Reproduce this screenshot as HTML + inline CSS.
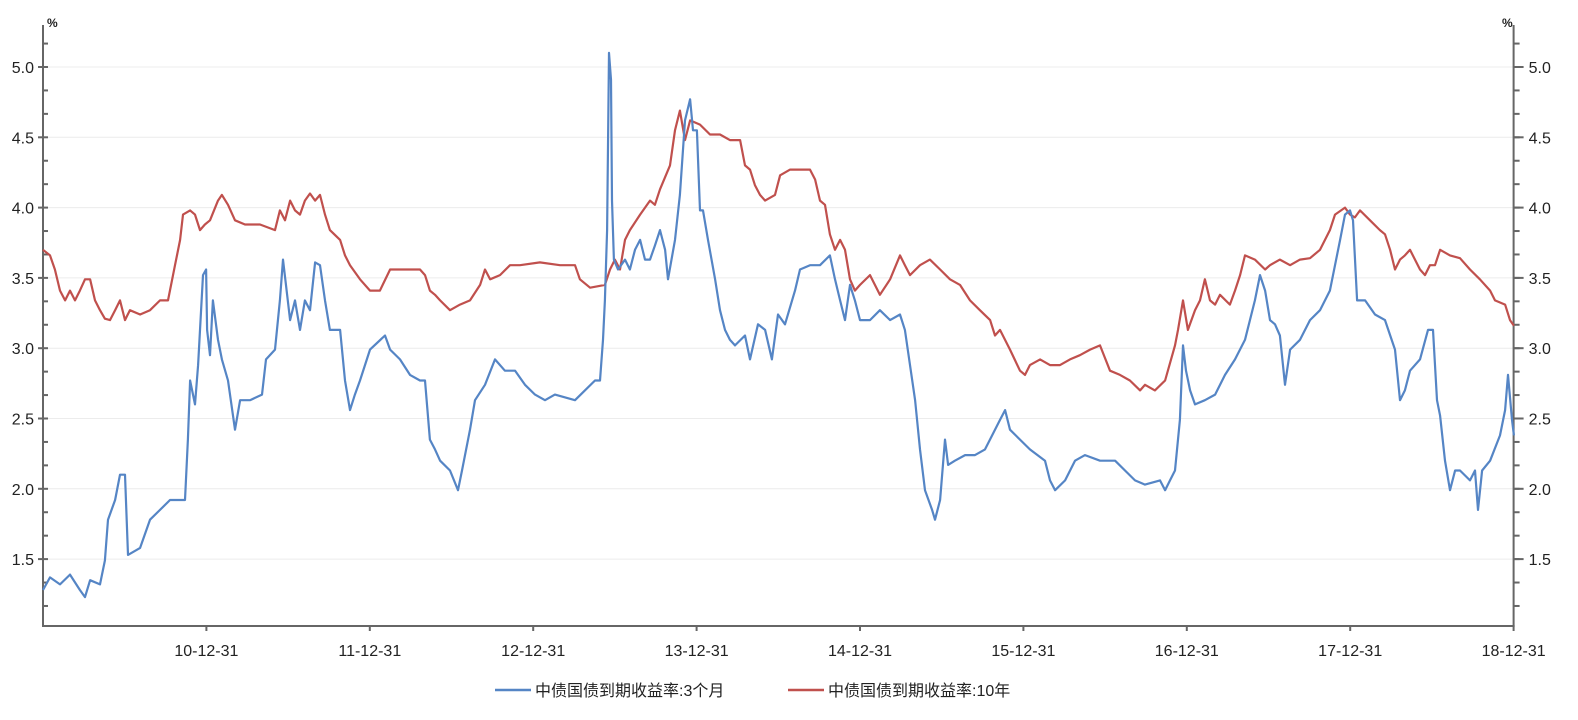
<!DOCTYPE html>
<html><head><meta charset="utf-8">
<style>
html,body{margin:0;padding:0;background:#fff;}
svg text{font-family:"Liberation Sans","Noto Sans CJK SC",sans-serif;fill:#222;}
</style></head>
<body>
<svg id="chart" width="1578" height="715" viewBox="0 0 1578 715" xmlns="http://www.w3.org/2000/svg">
<g id="grid"></g>
<g id="axes"></g>
<g id="series"></g>
<g id="legend"></g>
</svg>
<script>
const yTicks = [1.5,2.0,2.5,3.0,3.5,4.0,4.5,5.0];
const xTickLabels = ["10-12-31","11-12-31","12-12-31","13-12-31","14-12-31","15-12-31","16-12-31","17-12-31","18-12-31"];
const xTickYears = [2011,2012,2013,2014,2015,2016,2017,2018,2019];
const seriesNames = ["中债国债到期收益率:3个月","中债国债到期收益率:10年"];
// 3-month: time offset (years since 2010-01-01) and yield
const t3m = [0,.043,.104,.165,.226,.257,.288,.349,.379,.398,.441,.471,.502,.520,.594,.655,.716,.777,.869,.887,.900,.930,.949,.979,.998,1.004,1.022,1.040,1.071,1.095,1.132,1.175,1.206,1.267,1.340,1.365,1.420,1.450,1.469,1.512,1.542,1.573,1.603,1.634,1.665,1.695,1.726,1.756,1.818,1.848,1.879,1.909,1.940,2.001,2.093,2.124,2.185,2.246,2.307,2.338,2.368,2.399,2.430,2.491,2.540,2.564,2.613,2.644,2.705,2.766,2.827,2.889,2.950,3.011,3.072,3.133,3.256,3.378,3.409,3.427,3.439,3.452,3.464,3.476,3.482,3.494,3.519,3.562,3.592,3.623,3.654,3.684,3.715,3.745,3.776,3.807,3.825,3.868,3.898,3.929,3.960,3.978,4.002,4.021,4.039,4.070,4.113,4.143,4.174,4.204,4.235,4.296,4.327,4.376,4.419,4.461,4.498,4.541,4.602,4.633,4.694,4.755,4.816,4.847,4.878,4.908,4.939,4.969,5.000,5.061,5.122,5.184,5.245,5.275,5.337,5.367,5.398,5.441,5.459,5.490,5.520,5.539,5.581,5.643,5.704,5.765,5.857,5.888,5.918,5.979,6.040,6.132,6.163,6.194,6.255,6.316,6.377,6.469,6.561,6.622,6.683,6.744,6.836,6.867,6.897,6.928,6.958,6.977,6.995,7.020,7.050,7.111,7.173,7.234,7.295,7.356,7.417,7.448,7.479,7.509,7.540,7.570,7.601,7.632,7.693,7.754,7.815,7.876,7.938,7.968,7.999,8.017,8.042,8.091,8.152,8.213,8.274,8.305,8.335,8.366,8.427,8.476,8.507,8.531,8.550,8.580,8.611,8.642,8.672,8.733,8.764,8.782,8.807,8.856,8.917,8.948,8.966,8.990,9.002];
const v3m = [1.28,1.37,1.32,1.39,1.28,1.23,1.35,1.32,1.49,1.78,1.92,2.10,2.10,1.53,1.58,1.78,1.85,1.92,1.92,2.35,2.77,2.60,2.88,3.52,3.56,3.13,2.95,3.34,3.06,2.92,2.77,2.42,2.63,2.63,2.67,2.92,2.99,3.34,3.63,3.20,3.34,3.13,3.34,3.27,3.61,3.59,3.34,3.13,3.13,2.77,2.56,2.67,2.77,2.99,3.09,2.99,2.92,2.81,2.77,2.77,2.35,2.28,2.20,2.13,1.99,2.13,2.42,2.63,2.74,2.92,2.84,2.84,2.74,2.67,2.63,2.67,2.63,2.77,2.77,3.06,3.34,3.84,5.10,4.91,4.05,3.63,3.56,3.63,3.56,3.70,3.77,3.63,3.63,3.73,3.84,3.70,3.49,3.77,4.09,4.62,4.77,4.55,4.55,3.98,3.98,3.77,3.49,3.27,3.13,3.06,3.02,3.09,2.92,3.17,3.13,2.92,3.24,3.17,3.41,3.56,3.59,3.59,3.66,3.49,3.34,3.20,3.45,3.34,3.20,3.20,3.27,3.20,3.24,3.13,2.63,2.28,1.99,1.85,1.78,1.92,2.35,2.17,2.20,2.24,2.24,2.28,2.49,2.56,2.42,2.35,2.28,2.20,2.06,1.99,2.06,2.20,2.24,2.20,2.20,2.13,2.06,2.03,2.06,1.99,2.06,2.13,2.49,3.02,2.84,2.70,2.60,2.63,2.67,2.81,2.92,3.06,3.34,3.52,3.41,3.20,3.17,3.09,2.74,2.99,3.06,3.20,3.27,3.41,3.77,3.95,3.98,3.91,3.34,3.34,3.24,3.20,2.99,2.63,2.70,2.84,2.92,3.13,3.13,2.63,2.52,2.20,1.99,2.13,2.13,2.06,2.13,1.85,2.13,2.20,2.38,2.56,2.81,2.49,2.38];
// 10-year
const t10y = [0,.043,.073,.104,.135,.165,.196,.226,.257,.288,.318,.349,.379,.410,.441,.471,.502,.532,.594,.655,.716,.765,.808,.839,.857,.900,.930,.961,.991,1.022,1.071,1.095,1.132,1.175,1.236,1.328,1.420,1.450,1.481,1.512,1.542,1.573,1.603,1.634,1.665,1.695,1.726,1.756,1.818,1.848,1.879,1.940,2.001,2.062,2.124,2.185,2.307,2.338,2.368,2.399,2.430,2.491,2.552,2.613,2.675,2.705,2.736,2.797,2.858,2.919,3.041,3.164,3.256,3.286,3.348,3.439,3.470,3.500,3.531,3.562,3.592,3.654,3.715,3.745,3.776,3.837,3.868,3.898,3.929,3.960,4.021,4.082,4.143,4.204,4.266,4.296,4.327,4.357,4.388,4.419,4.480,4.511,4.572,4.633,4.694,4.725,4.755,4.786,4.816,4.847,4.878,4.908,4.939,4.969,5.000,5.061,5.122,5.184,5.245,5.275,5.306,5.367,5.428,5.490,5.551,5.612,5.673,5.734,5.796,5.826,5.857,5.918,5.979,6.010,6.040,6.102,6.163,6.224,6.285,6.346,6.408,6.469,6.530,6.591,6.652,6.714,6.744,6.805,6.867,6.928,6.946,6.977,7.007,7.050,7.081,7.111,7.142,7.173,7.203,7.264,7.295,7.326,7.356,7.417,7.479,7.509,7.570,7.632,7.693,7.754,7.815,7.876,7.907,7.968,7.999,8.029,8.060,8.121,8.182,8.213,8.244,8.274,8.305,8.335,8.366,8.427,8.458,8.488,8.519,8.550,8.611,8.672,8.733,8.794,8.856,8.886,8.948,8.978,9.002];
const v10y = [3.70,3.66,3.56,3.41,3.34,3.41,3.34,3.41,3.49,3.49,3.34,3.27,3.21,3.20,3.27,3.34,3.20,3.27,3.24,3.27,3.34,3.34,3.59,3.77,3.95,3.98,3.95,3.84,3.88,3.91,4.05,4.09,4.02,3.91,3.88,3.88,3.84,3.98,3.91,4.05,3.98,3.95,4.05,4.10,4.05,4.09,3.95,3.84,3.77,3.66,3.59,3.49,3.41,3.41,3.56,3.56,3.56,3.52,3.41,3.38,3.34,3.27,3.31,3.34,3.45,3.56,3.49,3.52,3.59,3.59,3.61,3.59,3.59,3.49,3.43,3.45,3.56,3.63,3.56,3.77,3.84,3.95,4.05,4.02,4.13,4.30,4.55,4.69,4.48,4.62,4.59,4.52,4.52,4.48,4.48,4.30,4.27,4.16,4.09,4.05,4.09,4.23,4.27,4.27,4.27,4.20,4.05,4.02,3.81,3.70,3.77,3.70,3.49,3.41,3.45,3.52,3.38,3.49,3.66,3.59,3.52,3.59,3.63,3.56,3.49,3.45,3.34,3.27,3.20,3.09,3.13,2.99,2.84,2.81,2.88,2.92,2.88,2.88,2.92,2.95,2.99,3.02,2.84,2.81,2.77,2.70,2.74,2.70,2.77,3.02,3.13,3.34,3.13,3.27,3.34,3.49,3.34,3.31,3.38,3.31,3.41,3.52,3.66,3.63,3.56,3.59,3.63,3.59,3.63,3.64,3.70,3.84,3.95,4.00,3.95,3.93,3.98,3.91,3.84,3.81,3.70,3.56,3.63,3.66,3.70,3.56,3.52,3.59,3.59,3.70,3.66,3.64,3.56,3.49,3.41,3.34,3.31,3.20,3.16];

const NS="http://www.w3.org/2000/svg";
const X0=43, X1=1513.6, Y0=67, YS=140.6, BOT=626, TOP=25;
const xS = t => X0 + t*163.4;
const xYear = yr => xS(yr-2010);
const yS = v => Y0 + (5.0 - v)*YS;
function mk(tag, attrs, parent){const e=document.createElementNS(NS,tag);for(const k in attrs)e.setAttribute(k,attrs[k]);parent.appendChild(e);return e;}
const grid=document.getElementById('grid'), axes=document.getElementById('axes'), ser=document.getElementById('series'), leg=document.getElementById('legend');

yTicks.forEach(v=>{
  const g=mk('line',{x1:X0,x2:X1,y1:yS(v),y2:yS(v),stroke:'#ececec','stroke-width':1},grid);
  
  
});
let a=mk('line',{x1:X0,x2:X0,y1:TOP,y2:BOT,stroke:'#666','stroke-width':2},axes);

a=mk('line',{x1:X1,x2:X1,y1:TOP,y2:BOT,stroke:'#666','stroke-width':2},axes);

a=mk('line',{x1:X0-1,x2:X1+1,y1:BOT,y2:BOT,stroke:'#666','stroke-width':2},axes);

for(let k=1;k<=25;k++){
  const v=1.0+k/6; if(v>5.3)break;
  const y=yS(v);
  mk('line',{x1:X0,x2:X0+5,y1:y,y2:y,stroke:'#666','stroke-width':2},axes);
  mk('line',{x1:X1,x2:X1+6,y1:y,y2:y,stroke:'#666','stroke-width':2},axes);
}
yTicks.forEach(v=>{
  const y=yS(v);
  mk('line',{x1:X0-5,x2:X0,y1:y,y2:y,stroke:'#666','stroke-width':2},axes);
  mk('line',{x1:X1,x2:X1+10,y1:y,y2:y,stroke:'#666','stroke-width':2},axes);
  const l=mk('text',{x:X0-9,y:y+6,'text-anchor':'end','font-size':16},axes);l.textContent=v.toFixed(1);
  
  const r=mk('text',{x:X1+15,y:y+6,'text-anchor':'start','font-size':16},axes);r.textContent=v.toFixed(1);
  
});
let u=mk('text',{x:47,y:27,'font-size':12,'font-weight':'bold'},axes);u.textContent='%';

u=mk('text',{x:1502,y:27,'font-size':12,'font-weight':'bold'},axes);u.textContent='%';

xTickYears.forEach((yr,i)=>{
  const x=xYear(yr);
  mk('line',{x1:x,x2:x,y1:BOT,y2:BOT+5,stroke:'#666','stroke-width':2},axes);
  const t=mk('text',{x:x,y:656,'text-anchor':'middle','font-size':16},axes);t.textContent=xTickLabels[i];
  
});
function drawLine(ts,vs,color,name){
  const d=ts.map((t,i)=>(i?'L':'M')+xS(t).toFixed(1)+','+yS(vs[i]).toFixed(1)).join('');
  const p=mk('path',{d:d,fill:'none',stroke:color,'stroke-width':2.2,'stroke-linejoin':'round'},ser);
  
  
}
drawLine(t10y,v10y,'#c0504d','line-10y');
drawLine(t3m,v3m,'#5585c5','line-3m');
const legItems=[{c:'#5585c5',x:495},{c:'#c0504d',x:788}];
legItems.forEach((it,i)=>{
  const g=mk('g',{},leg);
  
  
  mk('line',{x1:it.x,x2:it.x+36,y1:690,y2:690,stroke:it.c,'stroke-width':2.5},g);
  const t=mk('text',{x:it.x+40,y:696,'font-size':16},g);t.textContent=seriesNames[i];
});
</script>
</body></html>
